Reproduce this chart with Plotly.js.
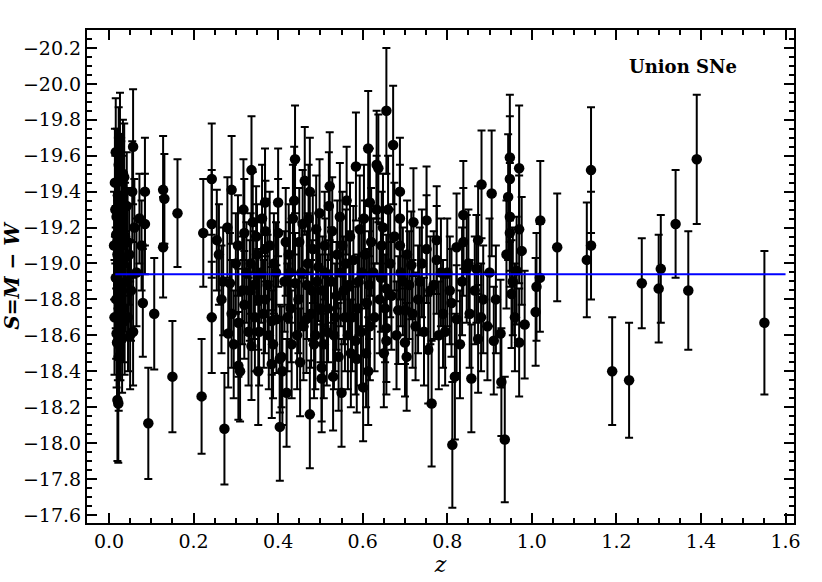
<!DOCTYPE html>
<html><head><meta charset="utf-8">
<script src="https://cdn.plot.ly/plotly-3.0.1.min.js"></script>
<style>html,body{margin:0;padding:0;background:#fff}</style>
</head><body><div id="chart" style="width:822px;height:582px"></div>
<script>
const zVals = [0.015,0.016,0.016,0.017,0.017,0.018,0.018,0.019,0.019,0.020,0.020,0.021,0.021,0.022,0.022,0.023,0.023,0.024,0.025,0.026,0.027,0.028,0.029,0.030,0.031,0.032,0.034,0.035,0.036,0.038,0.040,0.042,0.045,0.048,0.052,0.055,0.057,0.057,0.060,0.065,0.072,0.077,0.080,0.085,0.085,0.093,0.107,0.128,0.131,0.128,0.150,0.162,0.219,0.223,0.243,0.243,0.243,0.255,0.266,0.273,0.282,0.286,0.290,0.300,0.306,0.306,0.310,0.320,0.320,0.325,0.333,0.337,0.337,0.340,0.345,0.350,0.353,0.353,0.360,0.369,0.369,0.369,0.370,0.378,0.385,0.385,0.390,0.396,0.400,0.400,0.404,0.404,0.408,0.410,0.415,0.420,0.425,0.430,0.435,0.440,0.440,0.445,0.450,0.455,0.463,0.467,0.470,0.475,0.475,0.480,0.485,0.490,0.495,0.500,0.503,0.503,0.510,0.515,0.520,0.522,0.525,0.530,0.535,0.540,0.546,0.550,0.555,0.560,0.565,0.570,0.575,0.583,0.584,0.586,0.590,0.593,0.601,0.605,0.610,0.613,0.613,0.617,0.617,0.625,0.633,0.633,0.637,0.640,0.645,0.650,0.656,0.656,0.656,0.656,0.665,0.672,0.684,0.688,0.688,0.688,0.695,0.700,0.700,0.704,0.710,0.715,0.720,0.725,0.731,0.740,0.751,0.751,0.755,0.760,0.763,0.775,0.775,0.780,0.790,0.800,0.806,0.812,0.818,0.822,0.822,0.830,0.838,0.838,0.846,0.853,0.857,0.865,0.869,0.873,0.873,0.881,0.885,0.895,0.905,0.910,0.926,0.928,0.936,0.944,0.948,0.948,0.948,0.948,0.952,0.960,0.964,0.970,0.970,0.970,0.976,0.983,1.009,1.011,1.019,1.020,1.060,1.130,1.140,1.140,1.190,1.230,1.260,1.300,1.305,1.340,1.370,1.390,1.550,
 0.012,0.013,0.014,0.024,0.026,0.028,0.033,0.037,0.044,0.050,
 0.260,0.270,0.280,0.290,0.295,0.305,0.315,0.318,0.330,0.335,0.342,0.348,0.355,0.362,0.366,0.375,0.380,0.388,0.395,0.418,0.422,0.428,0.432,0.438,0.448,0.452,0.458,0.460,0.468,0.472,0.478,0.482,0.488,0.492,0.498,0.505,0.508,0.512,0.518,0.528,0.532,0.538,0.543,0.548,0.552,0.558,0.562,0.568,0.572,0.578,0.588,0.596,0.598,0.603,0.608,0.615,0.620,0.628,0.643,0.648,0.653,0.660,0.668,0.675,0.680,0.690,0.705,0.718,0.735,0.745,0.768,0.785,0.795,0.810,0.835,0.850,0.880,0.900,0.915,0.940,0.955];
const sVals = [-19.30,-18.92,-19.62,-18.80,-19.16,-18.61,-19.26,-18.56,-19.45,-18.24,-19.05,-18.70,-19.38,-18.22,-18.95,-19.55,-18.48,-19.20,-18.85,-19.70,-18.65,-19.10,-19.35,-18.88,-18.58,-19.28,-19.00,-18.75,-19.48,-19.15,-18.90,-19.32,-18.70,-19.05,-18.85,-19.40,-19.65,-18.62,-19.20,-18.95,-19.25,-19.10,-18.78,-19.40,-19.22,-18.11,-18.72,-19.41,-19.36,-19.09,-18.37,-19.28,-18.26,-19.17,-19.47,-19.22,-18.70,-19.13,-18.80,-18.08,-18.61,-18.89,-19.41,-19.00,-18.67,-18.43,-18.40,-19.17,-18.77,-18.95,-18.85,-19.52,-18.54,-19.23,-18.70,-19.05,-18.40,-18.80,-18.95,-19.34,-19.08,-18.80,-19.18,-18.60,-18.68,-18.44,-19.00,-18.69,-19.34,-19.17,-18.09,-18.47,-18.48,-18.40,-18.90,-18.28,-19.05,-18.75,-19.25,-19.58,-18.89,-18.60,-19.12,-18.95,-19.46,-18.69,-19.00,-19.40,-18.16,-18.85,-18.55,-19.19,-18.98,-18.75,-18.36,-18.42,-19.10,-18.62,-19.32,-19.43,-18.90,-18.37,-18.70,-19.05,-19.26,-18.28,-18.85,-19.00,-18.60,-19.15,-18.70,-18.57,-19.54,-18.47,-18.90,-19.19,-18.31,-19.05,-18.78,-19.64,-18.40,-19.34,-18.65,-18.95,-19.30,-19.55,-19.53,-18.80,-19.10,-18.50,-19.85,-18.64,-18.86,-18.57,-19.00,-19.66,-18.74,-19.40,-19.25,-19.10,-18.90,-18.56,-18.74,-18.48,-18.88,-18.99,-19.23,-18.65,-18.80,-19.00,-19.24,-19.08,-18.52,-18.85,-18.22,-19.13,-19.02,-18.60,-18.72,-18.95,-18.85,-17.99,-18.37,-19.09,-18.69,-18.55,-19.27,-19.12,-18.97,-18.72,-18.36,-18.85,-18.97,-19.13,-18.58,-19.44,-18.80,-18.65,-19.39,-18.57,-18.61,-18.34,-18.02,-19.37,-19.59,-19.47,-19.26,-19.17,-18.83,-18.70,-18.96,-19.53,-19.19,-18.56,-19.07,-18.66,-18.73,-18.87,-18.92,-19.24,-19.09,-19.02,-19.52,-19.10,-18.40,-18.35,-18.89,-18.86,-18.97,-19.22,-18.85,-19.58,-18.67,
 -19.10,-18.70,-19.45,-18.55,-19.00,-18.78,-19.50,-18.68,-19.12,-18.60,
 -19.05,-18.90,-19.20,-18.72,-18.55,-19.10,-18.85,-19.30,-18.62,-19.00,-18.88,-19.15,-18.62,-19.25,-18.72,-18.88,-19.10,-18.55,-18.95,-19.12,-18.70,-18.95,-18.55,-19.35,-18.80,-18.45,-19.22,-18.65,-18.88,-19.25,-18.72,-19.08,-18.60,-18.90,-19.28,-18.85,-18.55,-18.95,-18.75,-19.18,-18.60,-18.82,-18.48,-18.95,-19.10,-18.70,-19.35,-18.88,-18.50,-19.02,-18.75,-18.62,-18.95,-19.25,-18.50,-18.88,-19.12,-18.70,-18.92,-19.20,-18.75,-19.30,-18.82,-19.15,-18.60,-18.95,-19.05,-18.72,-18.90,-18.62,-18.88,-18.95,-18.62,-18.78,-18.90,-19.00,-18.70,-18.95,-18.80,-19.05,-18.90];
const sErr = [0.30,0.28,0.30,0.33,0.30,0.30,0.35,0.32,0.30,0.34,0.30,0.35,0.32,0.33,0.30,0.32,0.30,0.33,0.32,0.25,0.30,0.30,0.33,0.28,0.30,0.32,0.30,0.30,0.30,0.30,0.28,0.30,0.30,0.28,0.28,0.28,0.32,0.30,0.27,0.30,0.25,0.25,0.30,0.30,0.28,0.31,0.31,0.30,0.25,0.28,0.31,0.30,0.32,0.30,0.31,0.30,0.31,0.28,0.30,0.31,0.30,0.28,0.30,0.28,0.30,0.30,0.28,0.30,0.30,0.28,0.28,0.30,0.30,0.28,0.30,0.28,0.30,0.28,0.28,0.30,0.28,0.30,0.28,0.30,0.30,0.30,0.28,0.30,0.30,0.30,0.30,0.30,0.28,0.30,0.28,0.30,0.28,0.30,0.30,0.30,0.28,0.30,0.30,0.28,0.30,0.30,0.28,0.30,0.30,0.28,0.30,0.30,0.30,0.30,0.30,0.30,0.30,0.30,0.30,0.30,0.30,0.30,0.30,0.30,0.30,0.30,0.30,0.30,0.30,0.30,0.30,0.30,0.30,0.30,0.30,0.30,0.30,0.30,0.30,0.32,0.30,0.30,0.30,0.30,0.30,0.30,0.30,0.30,0.30,0.30,0.35,0.30,0.30,0.30,0.30,0.33,0.30,0.30,0.30,0.30,0.30,0.30,0.30,0.30,0.30,0.30,0.30,0.30,0.30,0.30,0.30,0.30,0.30,0.30,0.35,0.30,0.30,0.30,0.30,0.30,0.30,0.35,0.35,0.30,0.30,0.30,0.30,0.30,0.30,0.30,0.30,0.30,0.30,0.30,0.30,0.30,0.30,0.30,0.35,0.30,0.30,0.30,0.35,0.35,0.35,0.35,0.30,0.30,0.30,0.30,0.30,0.35,0.30,0.30,0.30,0.30,0.30,0.30,0.30,0.33,0.30,0.32,0.35,0.30,0.30,0.32,0.25,0.30,0.30,0.30,0.33,0.36,0.40,
 0.30,0.32,0.30,0.32,0.30,0.30,0.30,0.30,0.30,0.30,
 0.28,0.30,0.28,0.30,0.30,0.28,0.30,0.28,0.30,0.28,0.30,0.28,0.30,0.30,0.30,0.28,0.30,0.30,0.28,0.30,0.30,0.28,0.30,0.30,0.30,0.30,0.30,0.30,0.30,0.30,0.30,0.30,0.30,0.30,0.30,0.30,0.30,0.30,0.30,0.30,0.30,0.30,0.30,0.30,0.30,0.30,0.30,0.30,0.30,0.30,0.30,0.30,0.30,0.30,0.30,0.30,0.30,0.30,0.30,0.30,0.30,0.30,0.30,0.30,0.30,0.30,0.30,0.30,0.30,0.30,0.30,0.30,0.30,0.30,0.30,0.30,0.30,0.30,0.30,0.30,0.30];
const lineZ = [0.015, 1.60];
const lineS = [-18.94, -18.94];
const xTicks = [0.0,0.2,0.4,0.6,0.8,1.0,1.2,1.4,1.6];
const xTickText = ['0.0','0.2','0.4','0.6','0.8','1.0','1.2','1.4','1.6'];
const yTicks = [-20.2,-20.0,-19.8,-19.6,-19.4,-19.2,-19.0,-18.8,-18.6,-18.4,-18.2,-18.0,-17.8,-17.6];
const yTickText = ['\u221220.2','\u221220.0','\u221219.8','\u221219.6','\u221219.4','\u221219.2','\u221219.0','\u221218.8','\u221218.6','\u221218.4','\u221218.2','\u221218.0','\u221217.8','\u221217.6'];

const font = 'DejaVu Serif';
const data = [
  {x: zVals, y: sVals, type: 'scatter', mode: 'markers',
   marker: {color: '#000', size: 10.5, symbol: 'circle'},
   error_y: {type: 'data', array: sErr, visible: true, color: '#000', thickness: 2, width: 4},
   showlegend: false, hoverinfo: 'skip'},
  {x: lineZ, y: lineS, type: 'scatter', mode: 'lines',
   line: {color: '#0000ff', width: 2}, showlegend: false, hoverinfo: 'skip'}
];
const axisCommon = {
  showline: true, linecolor: '#000', linewidth: 2, mirror: 'allticks',
  ticks: 'inside', ticklen: 10, tickwidth: 2, tickcolor: '#000',
  showgrid: false, zeroline: false,
  tickfont: {family: font, size: 19, color: '#000'}
};
const layout = {
  width: 822, height: 582,
  margin: {l: 87, r: 28, t: 30, b: 59},
  paper_bgcolor: '#fff', plot_bgcolor: '#fff',
  xaxis: Object.assign({}, axisCommon, {
    range: [-0.052, 1.62], tickmode: 'array', tickvals: xTicks, ticktext: xTickText,
    minor: {dtick: 0.05, tick0: 0, ticks: 'inside', ticklen: 5, tickwidth: 2, tickcolor: '#000'},
    title: {text: '<i>z</i>', font: {family: font, size: 22, color: '#000'}, standoff: 2}
  }),
  yaxis: Object.assign({}, axisCommon, {
    range: [-17.555, -20.30], tickmode: 'array', tickvals: yTicks, ticktext: yTickText,
    minor: {dtick: 0.05, tick0: 0, ticks: 'inside', ticklen: 5, tickwidth: 2, tickcolor: '#000'},
    title: {text: '<b><i>S</i>=<i>M</i> \u2212 <i>W</i></b>', font: {family: font, size: 20, color: '#000'}, standoff: 6}
  }),
  annotations: [{
    xref: 'paper', yref: 'paper', x: 0.843, y: 0.925, xanchor: 'center', yanchor: 'middle',
    text: '<b>Union SNe</b>', showarrow: false, font: {family: font, size: 18, color: '#000'}
  }]
};
Plotly.newPlot('chart', data, layout, {displayModeBar: false, staticPlot: true});
</script></body></html>
